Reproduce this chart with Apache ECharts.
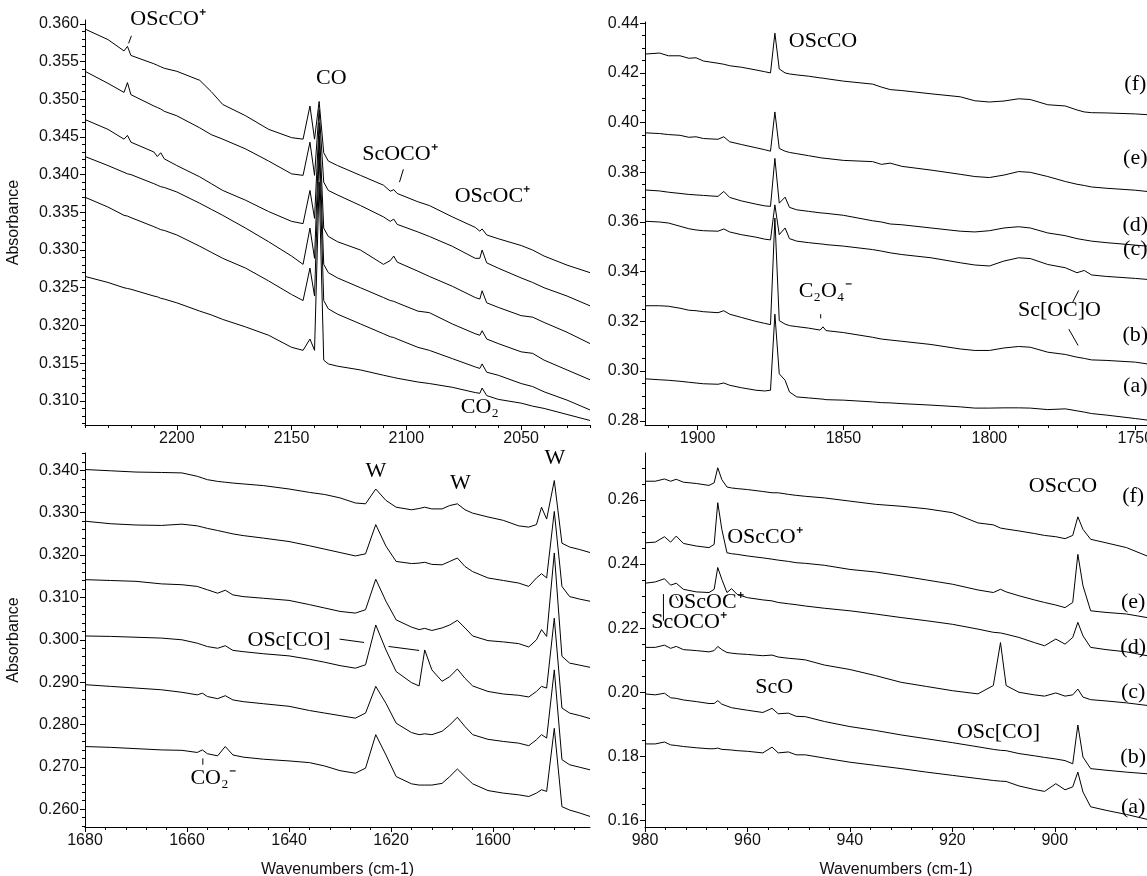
<!DOCTYPE html>
<html><head><meta charset="utf-8">
<script src="https://cdn.jsdelivr.net/npm/echarts@6/dist/echarts.min.js"></script>
<style>html,body{margin:0;padding:0;background:#fff}#c{width:1147px;height:876px}</style>
</head><body><div id="c"></div>
<script>
// ---------- Top-left panel (CO region) ----------
const tlWavenumbers = [2240, 2230, 2223, 2221.5, 2220, 2210, 2208.5, 2207, 2205.5, 2200, 2190, 2185, 2180, 2170, 2160, 2150, 2145, 2142, 2140, 2138, 2136, 2134, 2130, 2120, 2110, 2107, 2105.5, 2104, 2095, 2090, 2080, 2070, 2068, 2067, 2065, 2060, 2050, 2045, 2040, 2030, 2020];
const tl1 = [0.3593, 0.3579, 0.3564, 0.3570, 0.3558, 0.3547, 0.3545, 0.3543, 0.3541, 0.3537, 0.3525, 0.3510, 0.3493, 0.3478, 0.3460, 0.3449, 0.3447, 0.3491, 0.3447, 0.3497, 0.3429, 0.3418, 0.3412, 0.3399, 0.3386, 0.3378, 0.3380, 0.3375, 0.3364, 0.3359, 0.3344, 0.3330, 0.3325, 0.3328, 0.3320, 0.3315, 0.3306, 0.3300, 0.3292, 0.3280, 0.3270];
const tl2 = [0.3537, 0.3521, 0.3509, 0.3522, 0.3506, 0.3491, 0.3489, 0.3487, 0.3484, 0.3478, 0.3462, 0.3453, 0.3447, 0.3434, 0.3418, 0.3401, 0.3399, 0.3443, 0.3399, 0.3486, 0.3390, 0.3379, 0.3373, 0.3359, 0.3344, 0.3338, 0.3341, 0.3334, 0.3324, 0.3318, 0.3305, 0.3289, 0.3289, 0.3300, 0.3283, 0.3276, 0.3263, 0.3257, 0.3250, 0.3239, 0.3226];
const tl3 = [0.3473, 0.3460, 0.3447, 0.3452, 0.3443, 0.3430, 0.3424, 0.3429, 0.3421, 0.3412, 0.3397, 0.3388, 0.3379, 0.3366, 0.3351, 0.3338, 0.3335, 0.3379, 0.3342, 0.3469, 0.3329, 0.3318, 0.3311, 0.3300, 0.3281, 0.3286, 0.3292, 0.3284, 0.3272, 0.3265, 0.3252, 0.3237, 0.3235, 0.3246, 0.3230, 0.3224, 0.3213, 0.3211, 0.3204, 0.3191, 0.3176];
const tl4 = [0.3424, 0.3412, 0.3403, 0.3401, 0.3400, 0.3388, 0.3386, 0.3384, 0.3383, 0.3377, 0.3362, 0.3354, 0.3346, 0.3329, 0.3311, 0.3292, 0.3281, 0.3329, 0.3289, 0.3451, 0.3281, 0.3270, 0.3263, 0.3250, 0.3237, 0.3233, 0.3232, 0.3230, 0.3219, 0.3217, 0.3202, 0.3189, 0.3187, 0.3193, 0.3182, 0.3176, 0.3165, 0.3163, 0.3154, 0.3141, 0.3128];
const tl5 = [0.3370, 0.3357, 0.3346, 0.3345, 0.3343, 0.3331, 0.3329, 0.3327, 0.3326, 0.3320, 0.3305, 0.3297, 0.3289, 0.3276, 0.3259, 0.3241, 0.3233, 0.3276, 0.3239, 0.3429, 0.3233, 0.3222, 0.3215, 0.3202, 0.3189, 0.3185, 0.3184, 0.3182, 0.3171, 0.3167, 0.3156, 0.3145, 0.3143, 0.3149, 0.3138, 0.3134, 0.3123, 0.3119, 0.3112, 0.3101, 0.3088];
const tl6 = [0.3265, 0.3257, 0.3250, 0.3249, 0.3248, 0.3239, 0.3238, 0.3236, 0.3235, 0.3230, 0.3219, 0.3214, 0.3208, 0.3198, 0.3187, 0.3171, 0.3167, 0.3182, 0.3167, 0.3390, 0.3154, 0.3149, 0.3146, 0.3141, 0.3134, 0.3132, 0.3131, 0.3130, 0.3125, 0.3123, 0.3118, 0.3111, 0.3110, 0.3117, 0.3107, 0.3102, 0.3097, 0.3093, 0.3090, 0.3082, 0.3074];
const tlXTicks = [2200, 2150, 2100, 2050];
const tlYTicks = [0.310, 0.315, 0.320, 0.325, 0.330, 0.335, 0.340, 0.345, 0.350, 0.355, 0.360];

// ---------- Top-right panel (OScCO region) ----------
const trWavenumbers = [1918, 1913, 1910, 1906, 1903, 1900.5, 1898, 1893, 1891, 1889, 1885, 1880, 1877, 1875, 1873.5, 1872, 1870, 1868.5, 1866, 1862, 1858, 1857, 1856, 1850, 1840, 1837, 1834, 1830, 1820, 1810, 1805, 1800, 1795, 1790, 1786, 1780, 1774, 1770, 1767.5, 1765, 1760, 1750, 1746];
const trF = [0.4276, 0.4280, 0.4269, 0.4269, 0.4259, 0.4261, 0.4248, 0.4239, 0.4235, 0.4229, 0.4223, 0.4212, 0.4205, 0.4200, 0.4360, 0.4216, 0.4200, 0.4196, 0.4192, 0.4187, 0.4180, 0.4179, 0.4177, 0.4167, 0.4155, 0.4143, 0.4133, 0.4129, 0.4116, 0.4104, 0.4088, 0.4083, 0.4087, 0.4096, 0.4093, 0.4072, 0.4067, 0.4051, 0.4043, 0.4040, 0.4039, 0.4035, 0.4032];
const trE = [0.3959, 0.3956, 0.3952, 0.3949, 0.3941, 0.3943, 0.3936, 0.3933, 0.3943, 0.3923, 0.3912, 0.3899, 0.3891, 0.3885, 0.4043, 0.3896, 0.3885, 0.3880, 0.3875, 0.3867, 0.3859, 0.3857, 0.3856, 0.3848, 0.3843, 0.3832, 0.3837, 0.3824, 0.3809, 0.3792, 0.3783, 0.3779, 0.3789, 0.3803, 0.3800, 0.3783, 0.3763, 0.3752, 0.3747, 0.3741, 0.3736, 0.3728, 0.3723];
const trD = [0.3729, 0.3725, 0.3720, 0.3715, 0.3711, 0.3709, 0.3707, 0.3703, 0.3723, 0.3699, 0.3685, 0.3672, 0.3665, 0.3663, 0.3856, 0.3676, 0.3700, 0.3659, 0.3649, 0.3643, 0.3637, 0.3636, 0.3635, 0.3627, 0.3605, 0.3600, 0.3592, 0.3589, 0.3576, 0.3563, 0.3560, 0.3565, 0.3576, 0.3581, 0.3576, 0.3556, 0.3545, 0.3533, 0.3528, 0.3523, 0.3517, 0.3507, 0.3503];
const trC = [0.3603, 0.3600, 0.3596, 0.3583, 0.3573, 0.3568, 0.3565, 0.3563, 0.3572, 0.3560, 0.3549, 0.3539, 0.3531, 0.3528, 0.3669, 0.3549, 0.3576, 0.3533, 0.3523, 0.3517, 0.3512, 0.3511, 0.3509, 0.3503, 0.3489, 0.3483, 0.3476, 0.3469, 0.3456, 0.3436, 0.3427, 0.3423, 0.3443, 0.3456, 0.3453, 0.3429, 0.3416, 0.3396, 0.3405, 0.3387, 0.3381, 0.3373, 0.3369];
const trB = [0.3263, 0.3263, 0.3261, 0.3253, 0.3245, 0.3243, 0.3239, 0.3235, 0.3243, 0.3229, 0.3216, 0.3200, 0.3192, 0.3187, 0.3616, 0.3203, 0.3189, 0.3183, 0.3179, 0.3173, 0.3165, 0.3178, 0.3163, 0.3155, 0.3136, 0.3129, 0.3125, 0.3120, 0.3107, 0.3089, 0.3083, 0.3083, 0.3093, 0.3099, 0.3096, 0.3076, 0.3067, 0.3056, 0.3051, 0.3045, 0.3043, 0.3036, 0.3029];
const trA = [0.2969, 0.2965, 0.2963, 0.2959, 0.2955, 0.2952, 0.2949, 0.2947, 0.2952, 0.2943, 0.2933, 0.2923, 0.2920, 0.2923, 0.3229, 0.2989, 0.2963, 0.2916, 0.2896, 0.2892, 0.2888, 0.2887, 0.2885, 0.2883, 0.2876, 0.2873, 0.2872, 0.2869, 0.2863, 0.2856, 0.2851, 0.2851, 0.2852, 0.2852, 0.2851, 0.2845, 0.2848, 0.2840, 0.2835, 0.2829, 0.2823, 0.2809, 0.2803];
const trXTicks = [1900, 1850, 1800, 1750];
const trYTicks = [0.28, 0.30, 0.32, 0.34, 0.36, 0.38, 0.40, 0.42, 0.44];

// ---------- Bottom-left panel (water / OSc[CO] region) ----------
const blWavenumbers = [1680, 1675, 1670, 1665, 1661, 1658, 1657, 1656, 1654, 1652.5, 1651, 1649, 1645, 1640, 1636, 1633, 1630, 1627, 1625, 1623, 1621, 1619, 1616, 1614.5, 1613.4, 1612, 1610, 1608.5, 1607, 1605.5, 1604, 1601, 1598, 1595, 1593, 1591.5, 1590.5, 1589.5, 1588, 1586.5, 1585, 1583, 1581];
const bl1 = [0.3402, 0.3399, 0.3396, 0.3395, 0.3394, 0.3386, 0.3382, 0.3378, 0.3374, 0.3372, 0.3370, 0.3368, 0.3364, 0.3356, 0.3348, 0.3343, 0.3335, 0.3323, 0.3321, 0.3356, 0.3329, 0.3313, 0.3307, 0.3310, 0.3313, 0.3309, 0.3309, 0.3317, 0.3321, 0.3307, 0.3299, 0.3290, 0.3282, 0.3269, 0.3266, 0.3272, 0.3313, 0.3285, 0.3376, 0.3228, 0.3219, 0.3213, 0.3206];
const bl2 = [0.3280, 0.3274, 0.3271, 0.3270, 0.3273, 0.3269, 0.3266, 0.3263, 0.3258, 0.3254, 0.3250, 0.3246, 0.3240, 0.3232, 0.3222, 0.3214, 0.3206, 0.3198, 0.3203, 0.3272, 0.3221, 0.3185, 0.3180, 0.3181, 0.3183, 0.3178, 0.3177, 0.3185, 0.3193, 0.3173, 0.3161, 0.3146, 0.3140, 0.3134, 0.3126, 0.3146, 0.3156, 0.3146, 0.3303, 0.3126, 0.3102, 0.3096, 0.3091];
const bl3 = [0.3142, 0.3140, 0.3138, 0.3132, 0.3130, 0.3126, 0.3122, 0.3118, 0.3110, 0.3117, 0.3106, 0.3102, 0.3098, 0.3093, 0.3083, 0.3075, 0.3067, 0.3063, 0.3071, 0.3143, 0.3091, 0.3047, 0.3030, 0.3024, 0.3027, 0.3022, 0.3028, 0.3035, 0.3046, 0.3028, 0.3009, 0.2998, 0.2995, 0.2991, 0.2983, 0.3000, 0.3024, 0.3008, 0.3205, 0.2961, 0.2945, 0.2940, 0.2935];
const bl4 = [0.3009, 0.3008, 0.3006, 0.3004, 0.3000, 0.2992, 0.2988, 0.2984, 0.2980, 0.2986, 0.2975, 0.2972, 0.2967, 0.2962, 0.2954, 0.2947, 0.2939, 0.2933, 0.2941, 0.3035, 0.2976, 0.2925, 0.2899, 0.2891, 0.2976, 0.2929, 0.2902, 0.2913, 0.2931, 0.2909, 0.2891, 0.2878, 0.2872, 0.2869, 0.2865, 0.2878, 0.2890, 0.2886, 0.3051, 0.2839, 0.2827, 0.2821, 0.2814];
const bl5 = [0.2894, 0.2890, 0.2886, 0.2882, 0.2876, 0.2870, 0.2874, 0.2866, 0.2861, 0.2868, 0.2858, 0.2854, 0.2849, 0.2843, 0.2833, 0.2827, 0.2821, 0.2815, 0.2827, 0.2890, 0.2850, 0.2803, 0.2781, 0.2776, 0.2778, 0.2776, 0.2784, 0.2799, 0.2817, 0.2795, 0.2776, 0.2765, 0.2760, 0.2756, 0.2750, 0.2764, 0.2776, 0.2768, 0.2929, 0.2717, 0.2705, 0.2699, 0.2693];
const bl6 = [0.2748, 0.2746, 0.2743, 0.2740, 0.2739, 0.2734, 0.2740, 0.2731, 0.2726, 0.2748, 0.2728, 0.2723, 0.2718, 0.2714, 0.2710, 0.2702, 0.2691, 0.2685, 0.2697, 0.2776, 0.2728, 0.2677, 0.2660, 0.2657, 0.2657, 0.2657, 0.2661, 0.2677, 0.2695, 0.2677, 0.2660, 0.2644, 0.2638, 0.2634, 0.2630, 0.2638, 0.2646, 0.2642, 0.2791, 0.2606, 0.2598, 0.2591, 0.2583];
const blXTicks = [1680, 1660, 1640, 1620, 1600];
const blYTicks = [0.260, 0.270, 0.280, 0.290, 0.300, 0.310, 0.320, 0.330, 0.340];

// ---------- Bottom-right panel (ScO / OScCO region) ----------
const brWavenumbers = [980, 978, 976.2, 975, 973.9, 972.5, 970, 967.5, 966.5, 965.8, 965, 964, 963.1, 962, 960, 957, 955.2, 954, 952, 950.5, 948.7, 945, 940, 935, 930, 925, 920, 915, 912, 910.6, 909.5, 907, 904, 902, 899.8, 898, 896.5, 895.5, 894.5, 893, 890, 886, 882];
const brF = [0.2658, 0.2658, 0.2665, 0.2658, 0.2664, 0.2655, 0.2651, 0.2645, 0.2653, 0.2700, 0.2663, 0.2640, 0.2637, 0.2635, 0.2632, 0.2626, 0.2622, 0.2622, 0.2617, 0.2614, 0.2611, 0.2606, 0.2596, 0.2586, 0.2580, 0.2572, 0.2560, 0.2528, 0.2522, 0.2512, 0.2509, 0.2503, 0.2495, 0.2489, 0.2485, 0.2479, 0.2489, 0.2547, 0.2508, 0.2477, 0.2466, 0.2451, 0.2425];
const brE = [0.2466, 0.2468, 0.2485, 0.2468, 0.2487, 0.2464, 0.2456, 0.2451, 0.2461, 0.2591, 0.2508, 0.2435, 0.2432, 0.2430, 0.2425, 0.2419, 0.2415, 0.2412, 0.2408, 0.2404, 0.2402, 0.2396, 0.2383, 0.2375, 0.2363, 0.2350, 0.2337, 0.2319, 0.2311, 0.2321, 0.2313, 0.2301, 0.2288, 0.2280, 0.2272, 0.2264, 0.2280, 0.2430, 0.2332, 0.2254, 0.2249, 0.2244, 0.2233];
const brD = [0.2340, 0.2344, 0.2354, 0.2334, 0.2340, 0.2321, 0.2313, 0.2311, 0.2321, 0.2389, 0.2352, 0.2311, 0.2323, 0.2305, 0.2295, 0.2288, 0.2285, 0.2280, 0.2276, 0.2273, 0.2269, 0.2262, 0.2254, 0.2244, 0.2233, 0.2223, 0.2212, 0.2197, 0.2187, 0.2185, 0.2181, 0.2171, 0.2155, 0.2145, 0.2166, 0.2150, 0.2171, 0.2218, 0.2176, 0.2140, 0.2133, 0.2126, 0.2114];
const brC = [0.2140, 0.2140, 0.2147, 0.2137, 0.2143, 0.2133, 0.2130, 0.2126, 0.2130, 0.2143, 0.2133, 0.2124, 0.2122, 0.2120, 0.2118, 0.2114, 0.2116, 0.2110, 0.2106, 0.2104, 0.2101, 0.2085, 0.2071, 0.2052, 0.2031, 0.2018, 0.2005, 0.1995, 0.2021, 0.2155, 0.2021, 0.2000, 0.1992, 0.1988, 0.1998, 0.1988, 0.1992, 0.2010, 0.1985, 0.1977, 0.1973, 0.1967, 0.1959];
const brB = [0.1995, 0.1992, 0.1997, 0.1983, 0.1981, 0.1976, 0.1971, 0.1965, 0.1965, 0.1974, 0.1963, 0.1957, 0.1952, 0.1949, 0.1944, 0.1937, 0.1950, 0.1933, 0.1935, 0.1925, 0.1924, 0.1909, 0.1893, 0.1881, 0.1867, 0.1855, 0.1843, 0.1830, 0.1822, 0.1819, 0.1818, 0.1809, 0.1802, 0.1797, 0.1792, 0.1787, 0.1777, 0.1898, 0.1798, 0.1762, 0.1757, 0.1751, 0.1746];
const brA = [0.1839, 0.1839, 0.1845, 0.1836, 0.1834, 0.1831, 0.1827, 0.1824, 0.1824, 0.1826, 0.1822, 0.1821, 0.1820, 0.1818, 0.1816, 0.1811, 0.1829, 0.1811, 0.1814, 0.1805, 0.1805, 0.1795, 0.1782, 0.1772, 0.1762, 0.1751, 0.1741, 0.1731, 0.1725, 0.1723, 0.1722, 0.1708, 0.1697, 0.1691, 0.1715, 0.1696, 0.1705, 0.1751, 0.1689, 0.1643, 0.1632, 0.1619, 0.1604];
const brXTicks = [980, 960, 940, 920, 900];
const brYTicks = [0.16, 0.18, 0.20, 0.22, 0.24, 0.26];

// ---------- Annotations (data coordinates of each panel) ----------
const annotationTexts = [
  {p: 0, w: 2203.8, v: 0.3606, t: 'OScCO⁺'},
  {p: 0, w: 2132.7, v: 0.3528, t: 'CO'},
  {p: 0, w: 2102.8, v: 0.3427, t: 'ScOCO⁺'},
  {p: 0, w: 2062.5, v: 0.3372, t: 'OScOC⁺'},
  {p: 0, w: 2068.0, v: 0.3092, t: 'CO₂'},
  {p: 1, w: 1857.0, v: 0.4329, t: 'OScCO'},
  {p: 1, w: 1856.3, v: 0.3323, t: 'C₂O₄⁻'},
  {p: 1, w: 1776.0, v: 0.3243, t: 'Sc[OC]O'},
  {p: 1, w: 1750, v: 0.4156, t: '(f)'},
  {p: 1, w: 1750, v: 0.3856, t: '(e)'},
  {p: 1, w: 1750, v: 0.3587, t: '(d)'},
  {p: 1, w: 1750, v: 0.3489, t: '(c)'},
  {p: 1, w: 1750, v: 0.3143, t: '(b)'},
  {p: 1, w: 1750, v: 0.2940, t: '(a)'},
  {p: 2, w: 1623.0, v: 0.3398, t: 'W'},
  {p: 2, w: 1606.4, v: 0.3370, t: 'W'},
  {p: 2, w: 1587.9, v: 0.3429, t: 'W'},
  {p: 2, w: 1640.0, v: 0.3000, t: 'OSc[CO]'},
  {p: 2, w: 1654.9, v: 0.2673, t: 'CO₂⁻'},
  {p: 3, w: 898.4, v: 0.2642, t: 'OScCO'},
  {p: 3, w: 956.6, v: 0.2482, t: 'OScCO⁺'},
  {p: 3, w: 968.1, v: 0.2280, t: 'OScOC⁺'},
  {p: 3, w: 971.4, v: 0.2218, t: 'ScOCO⁺'},
  {p: 3, w: 954.8, v: 0.2016, t: 'ScO'},
  {p: 3, w: 911.0, v: 0.1876, t: 'OSc[CO]'},
  {p: 3, w: 884.7, v: 0.2610, t: '(f)'},
  {p: 3, w: 884.7, v: 0.2280, t: '(e)'},
  {p: 3, w: 884.7, v: 0.2140, t: '(d)'},
  {p: 3, w: 884.7, v: 0.2000, t: '(c)'},
  {p: 3, w: 884.7, v: 0.1798, t: '(b)'},
  {p: 3, w: 884.7, v: 0.1642, t: '(a)'}
];
const annotationLines = [
  {p: 0, w1: 2221.0, v1: 0.3574, w2: 2219.8, v2: 0.3584},
  {p: 0, w1: 2101.3, v1: 0.3407, w2: 2103.0, v2: 0.3390},
  {p: 1, w1: 1857.8, v1: 0.3229, w2: 1857.8, v2: 0.3212},
  {p: 1, w1: 1771.5, v1: 0.3276, w2: 1769.4, v2: 0.3325},
  {p: 1, w1: 1772.8, v1: 0.3169, w2: 1769.6, v2: 0.3103},
  {p: 2, w1: 1630.1, v1: 0.30016, w2: 1625.3, v2: 0.29937},
  {p: 2, w1: 1620.5, v1: 0.29843, w2: 1614.5, v2: 0.29748},
  {p: 2, w1: 1656.9, v1: 0.2720, w2: 1656.9, v2: 0.2705},
  {p: 3, w1: 974.0, v1: 0.2301, w2: 973.5, v2: 0.2285},
  {p: 3, w1: 976.4, v1: 0.2306, w2: 976.4, v2: 0.2223}
];

// ---------- Build chart ----------
const SANS = '"Liberation Sans", Arial, sans-serif';
const SERIF = '"Liberation Serif", "Times New Roman", serif';
const INK = '#111';

function steps(a, b, s) { const o = []; for (let v = a; v <= b + s / 1000; v += s) o.push(+v.toFixed(6)); return o; }

const panels = [
  {grid: {left: 85, top: 20, width: 505, height: 405}, xr: [2020, 2240], yr: [0.3068, 0.3605], xt: tlXTicks, yt: tlYTicks, yd: 3,
   xm: steps(2020, 2240, 10), ym: steps(0.307, 0.360, 0.001), x: tlWavenumbers, ys: [tl1, tl2, tl3, tl4, tl5, tl6], yName: 'Absorbance'},
  {grid: {left: 645, top: 22, width: 502, height: 403}, xr: [1746, 1918], yr: [0.2783, 0.4405], xt: trXTicks, yt: trYTicks, yd: 2,
   xm: steps(1750, 1910, 10), ym: steps(0.28, 0.44, 0.005), x: trWavenumbers, ys: [trF, trE, trD, trC, trB, trA]},
  {grid: {left: 85, top: 453, width: 505, height: 374}, xr: [1581, 1680], yr: [0.2558, 0.3441], xt: blXTicks, yt: blYTicks, yd: 3,
   xm: steps(1584, 1680, 4), ym: steps(0.256, 0.344, 0.002), x: blWavenumbers, ys: [bl1, bl2, bl3, bl4, bl5, bl6], yName: 'Absorbance', xName: 'Wavenumbers (cm-1)'},
  {grid: {left: 645, top: 453, width: 502, height: 374}, xr: [882, 980], yr: [0.1580, 0.2746], xt: brXTicks, yt: brYTicks, yd: 2,
   xm: steps(884, 980, 4), ym: steps(0.16, 0.27, 0.005), x: brWavenumbers, ys: [brF, brE, brD, brC, brB, brA], xName: 'Wavenumbers (cm-1)'}
];

const xAxes = [], yAxes = [], series = [];
panels.forEach((P, i) => {
  xAxes.push({
    type: 'value', gridIndex: i, min: P.xr[0], max: P.xr[1], inverse: true, position: 'bottom',
    axisLine: {show: true, onZero: false, lineStyle: {color: '#000', width: 1}},
    axisTick: {show: true, length: 5, customValues: P.xt, lineStyle: {color: '#000'}},
    axisLabel: {show: true, customValues: P.xt, margin: 6, fontFamily: SANS, fontSize: 16, color: INK, formatter: v => String(Math.round(v))},
    splitLine: {show: false},
    name: P.xName || '', nameLocation: 'middle', nameGap: 35, nameTextStyle: {fontFamily: SANS, fontSize: 16, color: INK}
  });
  yAxes.push({
    type: 'value', gridIndex: i, min: P.yr[0], max: P.yr[1], position: 'left',
    axisLine: {show: true, onZero: false, lineStyle: {color: '#000', width: 1}},
    axisTick: {show: true, length: 5, customValues: P.yt, lineStyle: {color: '#000'}},
    axisLabel: {show: true, customValues: P.yt, margin: 6, fontFamily: SANS, fontSize: 16, color: INK, formatter: v => v.toFixed(P.yd)},
    splitLine: {show: false},
    name: P.yName || '', nameLocation: 'middle', nameGap: 63, nameTextStyle: {fontFamily: SANS, fontSize: 16, color: INK}
  });
  P.ys.forEach((ys, k) => {
    series.push({
      type: 'line', xAxisIndex: i, yAxisIndex: i, showSymbol: false, symbol: 'none', silent: true,
      lineStyle: {color: '#000', width: 1}, animation: false,
      data: P.x.map((w, j) => [w, ys[j]])
    });
  });
});
// minor tick overlay axes
panels.forEach((P, i) => {
  xAxes.push({
    type: 'value', gridIndex: i, min: P.xr[0], max: P.xr[1], inverse: true, position: 'bottom',
    axisLine: {show: false}, axisLabel: {show: false}, splitLine: {show: false},
    axisTick: {show: true, length: 3, customValues: P.xm, lineStyle: {color: '#000'}}
  });
  yAxes.push({
    type: 'value', gridIndex: i, min: P.yr[0], max: P.yr[1], position: 'left',
    axisLine: {show: false}, axisLabel: {show: false}, splitLine: {show: false},
    axisTick: {show: true, length: 3, customValues: P.ym, lineStyle: {color: '#000'}}
  });
});

const chart = echarts.init(document.getElementById('c'), null, {renderer: 'canvas'});
chart.setOption({
  backgroundColor: '#fff',
  animation: false,
  grid: panels.map(P => Object.assign({containLabel: false, outerBoundsMode: 'none'}, P.grid)),
  xAxis: xAxes,
  yAxis: yAxes,
  series: series
});

const graphics = [];
annotationTexts.forEach(a => {
  const pt = chart.convertToPixel({xAxisIndex: a.p, yAxisIndex: a.p}, [a.w, a.v]);
  graphics.push({type: 'text', x: pt[0], y: pt[1], silent: true,
    style: {text: a.t, font: '22px ' + SERIF, fill: '#000', align: 'center', verticalAlign: 'middle'}});
});
annotationLines.forEach(l => {
  const p1 = chart.convertToPixel({xAxisIndex: l.p, yAxisIndex: l.p}, [l.w1, l.v1]);
  const p2 = chart.convertToPixel({xAxisIndex: l.p, yAxisIndex: l.p}, [l.w2, l.v2]);
  graphics.push({type: 'line', silent: true, shape: {x1: p1[0], y1: p1[1], x2: p2[0], y2: p2[1]},
    style: {stroke: '#000', lineWidth: 1}});
});
chart.setOption({graphic: graphics});
</script>
</body></html>
